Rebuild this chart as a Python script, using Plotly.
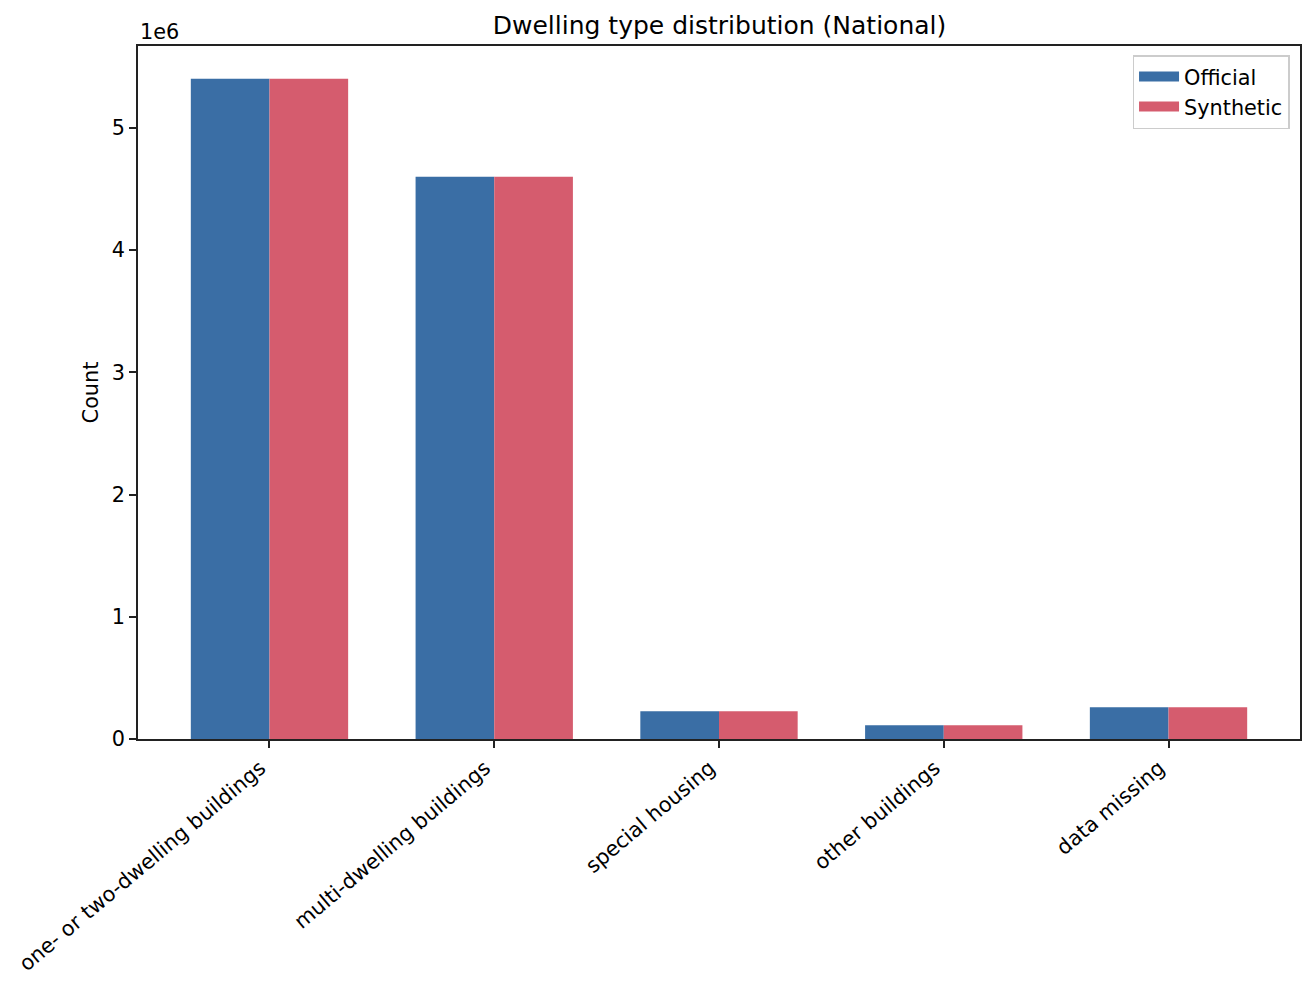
import plotly.graph_objects as go

# dwelling types (national)
categories = ['one- or two-dwelling buildings', 'multi-dwelling buildings',
              'special housing', 'other buildings', 'data missing']
official = [5403000, 4600000, 227000, 112000, 259000]
synthetic = [5403000, 4600000, 227000, 112000, 259000]
y_ticks = [0, 1000000, 2000000, 3000000, 4000000, 5000000]
y_tick_labels = ['0', '1', '2', '3', '4', '5']

FONT = 'DejaVu Sans'
BLUE = '#3A6EA5'
RED = '#D55C6E'

fig = go.Figure()
fig.add_trace(go.Bar(x=categories, y=official, name='Official', showlegend=False,
                     marker=dict(color=BLUE, line_width=0)))
fig.add_trace(go.Bar(x=categories, y=synthetic, name='Synthetic', showlegend=False,
                     marker=dict(color=RED, line_width=0)))
# legend entries drawn as wide patches like matplotlib
fig.add_trace(go.Scatter(x=[None], y=[None], mode='lines', name='Official', line=dict(color=BLUE, width=14)))
fig.add_trace(go.Scatter(x=[None], y=[None], mode='lines', name='Synthetic', line=dict(color=RED, width=14)))

# page body has an 8px margin, so the figure is sized 8px smaller
fig.update_layout(
    width=1307,
    height=978,
    barmode='group',
    bargap=0.3,
    bargroupgap=0,
    plot_bgcolor='#ffffff',
    paper_bgcolor='#ffffff',
    font=dict(family=FONT, size=20.8, color='#000000'),
    margin=dict(l=130, r=15, t=38, b=247),
    title=dict(text='Dwelling type distribution (National)', x=0.5444, xanchor='center',
               y=0.9826, yanchor='middle', font=dict(size=25)),
    legend=dict(x=0.991, y=0.987, xanchor='right', yanchor='top',
                bordercolor='#cccccc', borderwidth=1.5, bgcolor='rgba(255,255,255,0.8)',
                font=dict(size=20.8), itemwidth=40, tracegroupgap=2),
    showlegend=True,
)

fig.update_xaxes(
    range=[-0.585, 4.585],
    tickangle=-40,
    ticklabelshift=-9,
    automargin=False,
    ticks='outside', ticklen=7, tickwidth=1.6, tickcolor='#222222',
    showline=True, linecolor='#222222', linewidth=1.6, mirror=True,
    showgrid=False, zeroline=False,
    tickfont=dict(size=20.8),
)
fig.update_yaxes(
    range=[0, 5670000],
    tickvals=y_ticks, ticktext=y_tick_labels,
    automargin=False,
    ticks='outside', ticklen=7, tickwidth=1.6, tickcolor='#222222',
    showline=True, linecolor='#222222', linewidth=1.6, mirror=True,
    showgrid=False, zeroline=False,
    title=dict(text='Count', standoff=8, font=dict(size=20.8)),
    tickfont=dict(size=20.8),
)

# matplotlib style offset text
fig.add_annotation(text='1e6', xref='paper', yref='paper', x=0, y=1, xanchor='left', yanchor='bottom',
                   showarrow=False, font=dict(size=20.8), yshift=0)

fig.write_html("out.html")
